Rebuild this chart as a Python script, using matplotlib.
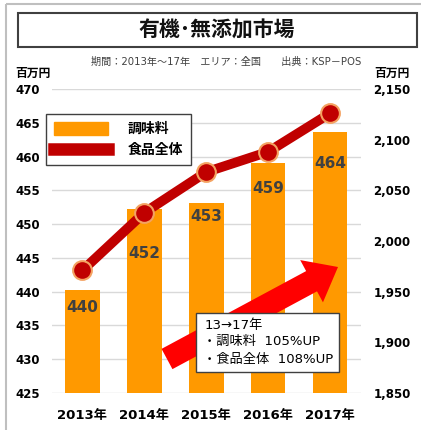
import matplotlib
matplotlib.use('Agg')
import matplotlib.pyplot as plt
from matplotlib.patches import Rectangle, FancyArrow, Patch
from matplotlib.lines import Line2D
from matplotlib.transforms import Affine2D
from matplotlib.ticker import FuncFormatter
import numpy as np

plt.rcParams['font.family'] = ['DejaVu Sans', 'Noto Sans CJK JP']

# data
years = ['2013年', '2014年', '2015年', '2016年', '2017年']
seasoning = [440.2, 452.3, 453.1, 459.1, 463.7]      # 調味料 (left axis)
seasoning_labels = ['440', '452', '453', '459', '464']
food_total = [1971, 2028, 2068, 2088, 2126]          # 食品全体 (right axis)
label_y = [437.7, 445.7, 451.1, 455.2, 458.9]        # where the value labels sit

W, H = 421, 430
fig = plt.figure(figsize=(W / 100, H / 100), dpi=100)
px = Affine2D().scale(1 / W, -1 / H).translate(0, 1) + fig.transFigure

ax = fig.add_axes([51.5 / W, 37 / H, 309.5 / W, 304 / H])
ax2 = ax.twinx()

x = np.arange(len(years))
ax.bar(x, seasoning, width=0.56, color='#FF9900', zorder=2)
for xi, yi, s in zip(x, label_y, seasoning_labels):
    ax.text(xi, yi, s, ha='center', va='center', fontsize=11, fontweight='bold',
            color='#404040', zorder=3)

ax.set_xlim(-0.5, 4.5)
ax.set_ylim(425, 470)
ax.set_yticks(np.arange(425, 471, 5))
ax.set_xticks(x)
ax.set_xticklabels(years, fontsize=9.5, fontweight='bold')
ax.yaxis.grid(True, color='#D9D9D9', lw=1)
ax.set_axisbelow(True)
ax.tick_params(axis='y', length=0, pad=8.3, labelsize=8.5)
ax.tick_params(axis='x', length=0, pad=11.5)
for lab in ax.get_yticklabels():
    lab.set_fontweight('bold')

ax2.plot(x, food_total, color='#C00000', lw=7, marker='o', ms=13.5,
         mfc='#C00000', mec='#F4A261', mew=1.5, solid_capstyle='round', zorder=4)
ax2.set_ylim(1850, 2150)
ax2.set_yticks(np.arange(1850, 2151, 50))
ax2.yaxis.set_major_formatter(FuncFormatter(lambda v, p: f'{int(v):,}'))
ax2.tick_params(axis='y', length=0, pad=9, labelsize=8.5)
for lab in ax2.get_yticklabels():
    lab.set_fontweight('bold')

for a in (ax, ax2):
    for sp in a.spines.values():
        sp.set_visible(False)

handles = [Patch(color='#FF9900'), Line2D([], [], color='#C00000', lw=9)]
leg = ax.legend(handles, ['調味料', '食品全体'], loc='upper left',
                bbox_to_anchor=(46 / W, 1 - 114 / H), bbox_transform=fig.transFigure,
                prop={'size': 10, 'weight': 'bold'}, handlelength=3.9, handleheight=1.1,
                handletextpad=1.45, labelspacing=0.5, borderpad=0.55, frameon=True,
                fancybox=False, edgecolor='#404040', framealpha=1, borderaxespad=0)
leg.get_frame().set_linewidth(1)
leg.set_zorder(5)

# outer frame and title box
fig.add_artist(Rectangle((6, 3.5), 440, 440, transform=px, fill=False,
                         ec='#BFBFBF', lw=1.5))
fig.add_artist(Rectangle((18, 13), 399, 34, transform=px, fill=False,
                         ec='#404040', lw=1.5))
fig.text(217 / W, 1 - 30 / H, '有機･無添加市場', ha='center', va='center',
         fontsize=15, fontweight='bold', color='#111111')
fig.text(226 / W, 1 - 62 / H, '期間：2013年～17年　エリア：全国　　出典：KSP－POS',
         ha='center', va='center', fontsize=7.3, color='#404040')
fig.text(15 / W, 1 - 73 / H, '百万円', ha='left', va='center', fontsize=8.5,
         fontweight='bold')
fig.text(410 / W, 1 - 73 / H, '百万円', ha='right', va='center', fontsize=8.5,
         fontweight='bold')

# red growth arrow + note box
fig.add_artist(FancyArrow(167, 359, 171, -92, width=23, head_width=48,
                          head_length=30, length_includes_head=True,
                          transform=px, color='#FF0000', lw=0))
fig.add_artist(Rectangle((196, 313), 143, 59, transform=px, fc='white',
                         ec='#404040', lw=1))
fig.text(205 / W, 1 - 326 / H, '13→17年', ha='left', va='center', fontsize=9.5)
fig.text(203 / W, 1 - 341 / H, '・調味料  105%UP', ha='left', va='center', fontsize=9.5)
fig.text(203 / W, 1 - 359 / H, '・食品全体  108%UP', ha='left', va='center', fontsize=9.5)

fig.savefig('out.png', dpi=100)
